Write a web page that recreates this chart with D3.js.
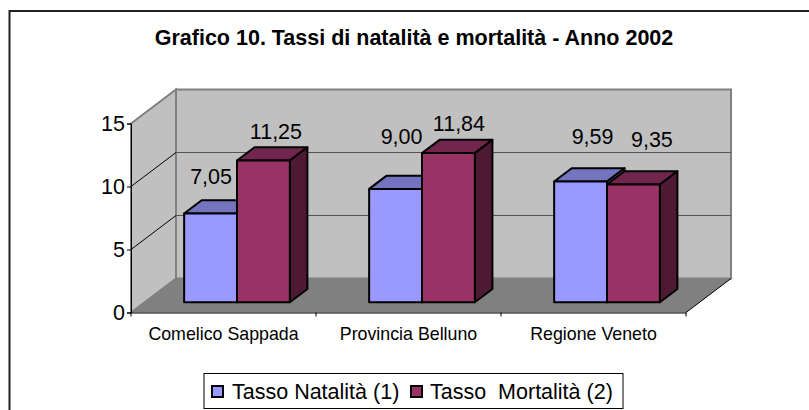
<!DOCTYPE html>
<html>
<head>
<meta charset="utf-8">
<script src="https://cdnjs.cloudflare.com/ajax/libs/d3/7.8.5/d3.min.js"></script>
<style>
html, body { margin: 0; padding: 0; background: #fff; overflow: hidden; }
text { font-family: "Liberation Sans", Arial, sans-serif; fill: #000; }
</style>
</head>
<body>
<script>
var categories = ["Comelico Sappada", "Provincia Belluno", "Regione Veneto"];
var seriesNames = ["Tasso Natalità (1)", "Tasso  Mortalità (2)"];
var natalita = [7.05, 9.00, 9.59];
var mortalita = [11.25, 11.84, 9.35];
var yTicks = [0, 5, 10, 15];
var chartTitle = "Grafico 10. Tassi di natalità e mortalità - Anno 2002";

var width = 809, height = 410;
var depthX = 45, depthY = -34;      // oblique shift of the back wall
var frontFrac = 0.3, barFrac = 0.39; // where bars sit in the depth

// value labels were moved by hand in the original: [dx, dy] from bar top, per series
var labelNudge = [
  [[0.5, -16], [6, -31.5], [12, -24]],
  [[12.5, -8], [10.5, -9], [18.5, -24]]
];

var colors = [
  {front: "#9999ff", top: "#7373bf", side: "#4d4d80"},
  {front: "#993366", top: "#73264d", side: "#4d1933"}
];

var svg = d3.select("body").append("svg")
    .attr("width", width)
    .attr("height", height)
    .style("display", "block");

// outer frame, only left and top edges are in the picture
svg.append("path")
    .attr("d", "M9.5,410V11H809")
    .attr("fill", "none").attr("stroke", "#222").attr("stroke-width", 2);

svg.append("text")
    .attr("x", 414).attr("y", 44.5)
    .attr("text-anchor", "middle")
    .attr("font-size", 21.5)
    .attr("font-weight", "bold")
    .text(chartTitle);

var x = d3.scaleBand().domain(categories).range([131, 686]);
var y = d3.scaleLinear().domain([0, 15]).range([312.5, 123.5]);
var inner = d3.scaleBand().domain([0, 1]).range([0, x.bandwidth()]).paddingOuter(0.75).paddingInner(0);

function pts(a) {
  return a.map(function(p) { return p.join(","); }).join(" ");
}

var x0 = x.range()[0], x1 = x.range()[1];
var y0 = y(0), yTop = y(15);

// back wall, side wall, floor
svg.append("polygon")
    .attr("points", pts([[x0 + depthX, yTop + depthY], [x1 + depthX, yTop + depthY], [x1 + depthX, y0 + depthY], [x0 + depthX, y0 + depthY]]))
    .attr("fill", "#c0c0c0").attr("stroke", "#808080").attr("stroke-width", 2);
svg.append("polygon")
    .attr("points", pts([[x0, yTop], [x0 + depthX, yTop + depthY], [x0 + depthX, y0 + depthY], [x0, y0]]))
    .attr("fill", "#c0c0c0").attr("stroke", "#808080").attr("stroke-width", 2);
svg.append("polygon")
    .attr("points", pts([[x0, y0], [x0 + depthX, y0 + depthY], [x1 + depthX, y0 + depthY], [x1, y0]]))
    .attr("fill", "#808080");

// gridlines on the walls
var grid = yTicks.filter(function(d) { return d > 0 && d < 15; });
svg.selectAll(".gridBack").data(grid).enter().append("line")
    .attr("x1", x0 + depthX).attr("x2", x1 + depthX)
    .attr("y1", function(d) { return y(d) + depthY; })
    .attr("y2", function(d) { return y(d) + depthY; })
    .attr("stroke", "#555").attr("stroke-width", 1);
svg.selectAll(".gridSide").data(grid).enter().append("line")
    .attr("x1", x0).attr("x2", x0 + depthX)
    .attr("y1", function(d) { return y(d); })
    .attr("y2", function(d) { return y(d) + depthY; })
    .attr("stroke", "#000").attr("stroke-width", 1);

// floor right edge
svg.append("line")
    .attr("x1", x1).attr("y1", y0).attr("x2", x1 + depthX).attr("y2", y0 + depthY)
    .attr("stroke", "#000").attr("stroke-width", 1);

// axes
var yAxis = d3.axisLeft(y).tickValues(yTicks).tickSize(4).tickFormat(d3.format("d"));
var yG = svg.append("g").attr("transform", "translate(" + x0 + ",0)").call(yAxis);
yG.selectAll("text").attr("font-size", 21.5).attr("x", -6).style("font-family", "'Liberation Sans', Arial, sans-serif");

var xAxis = d3.axisBottom(x).tickSize(0);
var xG = svg.append("g").attr("transform", "translate(0," + y0 + ")").call(xAxis);
xG.selectAll("text").attr("font-size", 17.8).attr("y", 15).attr("dy", "0.71em").style("font-family", "'Liberation Sans', Arial, sans-serif");
svg.selectAll(".catTick").data(d3.range(categories.length + 1)).enter().append("line")
    .attr("x1", function(i) { return x0 + i * x.step(); })
    .attr("x2", function(i) { return x0 + i * x.step(); })
    .attr("y1", y0).attr("y2", y0 + 4)
    .attr("stroke", "#000");

// bars, back to front per category
var offX = depthX * frontFrac, offY = depthY * frontFrac;
var barDx = depthX * barFrac, barDy = depthY * barFrac;

function drawBar(g, cat, s, v) {
  var c = colors[s];
  var left = x(cat) + inner(s) + offX;
  var right = left + inner.bandwidth();
  var base = y(0) + offY;
  var top = y(v) + offY;
  var bar = g.append("g")
      .attr("stroke", "#000").attr("stroke-width", 2).attr("stroke-linejoin", "round");
  bar.append("polygon")
      .attr("points", pts([[left, top], [left + barDx, top + barDy], [right + barDx, top + barDy], [right, top]]))
      .attr("fill", c.top);
  bar.append("polygon")
      .attr("points", pts([[right, top], [right + barDx, top + barDy], [right + barDx, base + barDy], [right, base]]))
      .attr("fill", c.side);
  bar.append("rect")
      .attr("x", left).attr("y", top)
      .attr("width", right - left).attr("height", base - top)
      .attr("fill", c.front);
}

var fmt = function(v) { return v.toFixed(2).replace(".", ","); };

categories.forEach(function(cat, i) {
  var g = svg.append("g");
  var vals = [natalita[i], mortalita[i]];
  vals.forEach(function(v, s) { drawBar(g, cat, s, v); });
  vals.forEach(function(v, s) {
    svg.append("text")
        .attr("x", x(cat) + inner(s) + offX + inner.bandwidth() / 2 + labelNudge[s][i][0])
        .attr("y", y(v) + offY + barDy + labelNudge[s][i][1])
        .attr("text-anchor", "middle")
        .attr("font-size", 21.5)
        .text(fmt(v));
  });
});

// legend
var legend = svg.append("g");
legend.append("rect")
    .attr("x", 204).attr("y", 373.5)
    .attr("width", 419).attr("height", 35)
    .attr("fill", "#fff").attr("stroke", "#000").attr("stroke-width", 1);
var legendX = [212, 411], legendTextX = [232, 430];
seriesNames.forEach(function(name, s) {
  legend.append("rect")
      .attr("x", legendX[s]).attr("y", 386)
      .attr("width", 11).attr("height", 11)
      .attr("fill", colors[s].front).attr("stroke", "#000").attr("stroke-width", 2);
  legend.append("text")
      .attr("x", legendTextX[s]).attr("y", 398.5)
      .attr("font-size", 21.5)
      .attr("xml:space", "preserve")
      .style("white-space", "pre")
      .text(name);
});
</script>
</body>
</html>
